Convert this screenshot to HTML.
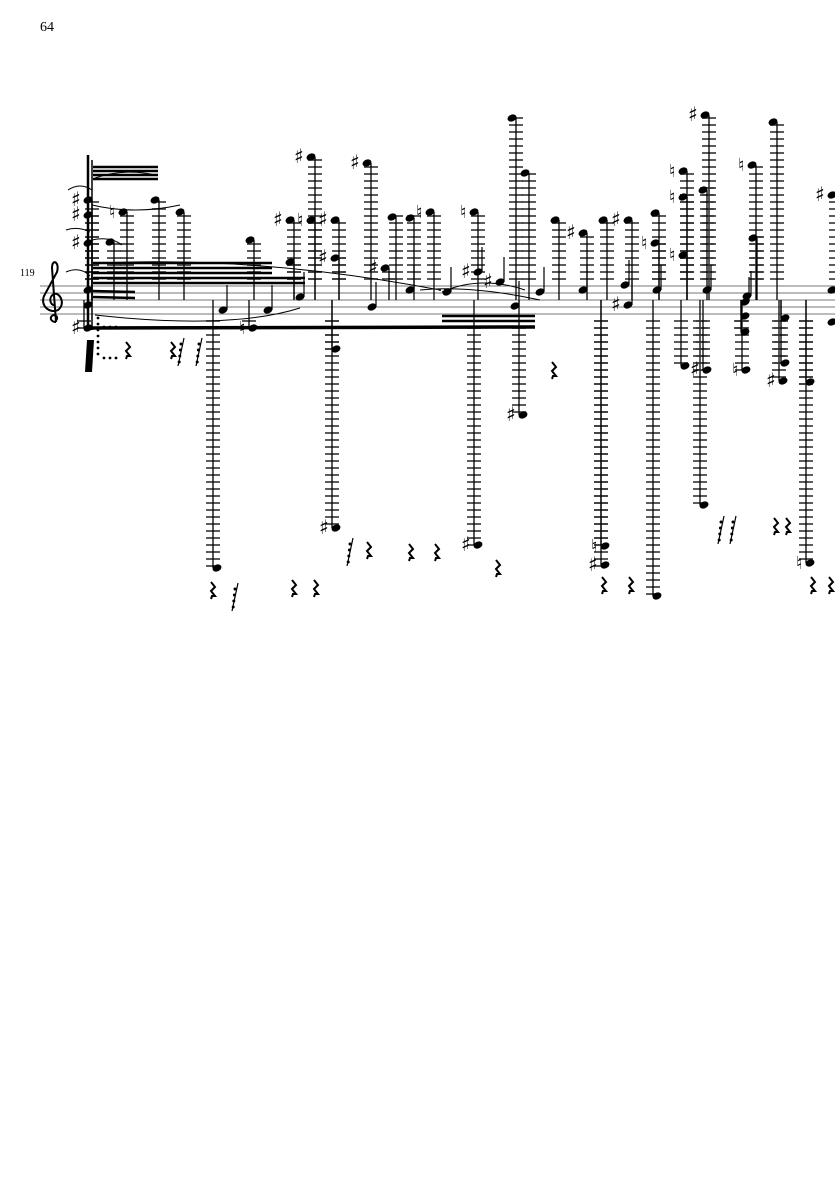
<!DOCTYPE html>
<html><head><meta charset="utf-8"><style>
html,body{margin:0;padding:0;background:#fff;width:835px;height:1181px;overflow:hidden}
svg{position:absolute;left:0;top:0}
</style></head><body>
<svg id="s" width="835" height="1181" xmlns="http://www.w3.org/2000/svg" font-family="Liberation Serif, serif">
<text x="40" y="31" font-size="14">64</text>
<text x="20" y="276" font-size="10">119</text>
<g stroke="#777" stroke-width="1">
<line x1="40" y1="286" x2="835" y2="286"/><line x1="40" y1="293" x2="835" y2="293"/><line x1="40" y1="300" x2="835" y2="300"/><line x1="40" y1="307" x2="835" y2="307"/><line x1="40" y1="314" x2="835" y2="314"/>
</g>
<path d="M56 322 C50 322 49 316 54 315 C58 315 58 320 55 321 M56 322 L52 268 C52 258 60 262 57 272 L44 296 C40 306 50 314 58 310 C66 304 60 292 54 294 C48 297 50 306 55 305" fill="none" stroke="#000" stroke-width="2"/>
<g id="g"></g>
</svg>
<script>
var g=document.getElementById('g'),h='';
function L(x1,y1,x2,y2,w,c){h+='<line x1="'+x1+'" y1="'+y1+'" x2="'+x2+'" y2="'+y2+'" stroke="'+(c||'#000')+'" stroke-width="'+(w||1)+'"/>';}
function head(x,y,a){h+='<ellipse cx="'+x+'" cy="'+y+'" rx="4.6" ry="3.4" transform="rotate(-22 '+x+' '+y+')"/>';
 if(a=='#')h+='<text x="'+(x-17)+'" y="'+(y+6)+'" font-size="20" font-weight="bold" font-family="DejaVu Sans">♯</text>';
 if(a=='n')h+='<text x="'+(x-14)+'" y="'+(y+6)+'" font-size="18" font-weight="bold" font-family="DejaVu Sans">♮</text>';}
function ledg(x,y){if(y<283){for(var k=279;k>=y-2;k-=7)L(x-7,k,x+7,k,1.6,'#333');}
 if(y>317){for(var k=321;k<=y+2;k+=7)L(x-7,k,x+7,k,1.6,'#333');}}
var up=[[88,200,'#'],[88,215,'#'],[88,243,'#'],[155,200,''],[123,212,'n'],[110,242,''],[180,212,''],[250,240,''],[290,220,'#'],[290,262,''],[311,157,'#'],[311,220,'n'],[335,220,'#'],[335,258,'#'],[367,163,'#'],[392,217,''],[385,268,'#'],[410,218,''],[430,212,'n'],[474,212,'n'],[512,118,''],[525,173,''],[555,220,''],[583,233,'#'],[603,220,''],[628,220,'#'],[655,213,''],[655,243,'n'],[683,171,'n'],[683,197,'n'],[683,255,'n'],[705,115,'#'],[703,190,''],[752,165,'n'],[753,238,''],[773,122,''],[832,195,'#']];
var mid=[[223,310,''],[268,310,''],[300,297,''],[372,307,''],[410,290,''],[447,292,''],[478,272,'#'],[500,282,'#'],[515,306,''],[540,292,''],[583,290,''],[625,285,''],[628,305,'#'],[657,290,''],[707,290,''],[747,296,''],[745,302,''],[832,290,''],[832,322,''],[88,290,''],[88,305,'']];
var low=[[88,328,'#'],[253,328,'n'],[217,568,''],[336,528,'#'],[336,349,''],[478,545,'#'],[523,415,'#'],[605,565,'#'],[605,546,'n'],[657,596,''],[704,505,''],[685,366,''],[707,370,'#'],[746,370,'n'],[783,381,'#'],[785,363,''],[810,563,'n'],[810,382,''],[745,332,''],[745,316,''],[785,318,'']];
up.forEach(function(n){ledg(n[0]+4,n[1]);L(n[0]+4,n[1],n[0]+4,300,1.3);});
low.forEach(function(n){ledg(n[0]-4,n[1]);L(n[0]-4,n[1],n[0]-4,300,1.3);});
mid.forEach(function(n){L(n[0]+4,n[1],n[0]+4,n[1]-25,1.2);});
up.concat(mid,low).forEach(function(n){head(n[0],n[1],n[2]);});
[[93,167],[93,171],[93,175],[93,179]].forEach(function(b){L(b[0],b[1],158,b[1],2.5);});
[263,268,273,278,283].forEach(function(y,i){L(93,y,i<3?272:305,y,2.5);});
L(90,328,535,327,3.5);L(442,316,535,316,2.5);L(442,321,535,321,2.5);L(93,291,135,292,2.5);L(93,297,135,298,2.5);
L(88,155,88,330,2.5);L(92,160,92,330,1.5);
h+='<path d="M95 178 Q125 168 155 175 M92 205 Q135 215 180 205 M92 240 Q110 236 122 245 M95 315 Q230 330 300 308 M420 290 Q470 285 540 300 M442 292 Q480 275 525 290 M100 263 Q260 256 440 290 M68 190 Q80 182 92 190 M66 230 Q78 226 90 232 M66 272 Q80 266 90 276" fill="none" stroke="#000" stroke-width="1"/>';
function rest(x,y){h+='<path d="M'+(x-1)+' '+(y-8)+' l4 5 l-4 4 l4 5 l-3 0 l-1 3" fill="none" stroke="#000" stroke-width="2"/>';}
[[127,350],[172,350],[212,590],[293,588],[315,588],[368,550],[410,552],[436,552],[497,568],[553,370],[603,585],[630,585],[775,526],[787,526],[812,585],[830,585]].forEach(function(r){rest(r[0],r[1]);});
function gr(x,y){L(x+6,y-12,x,y+16,1.2);for(var k=0;k<4;k++)h+='<circle cx="'+(x+3-k*0.6)+'" cy="'+(y-6+k*6)+'" r="1.5"/>';}
[[178,350],[196,350],[232,595],[347,550],[718,528],[730,528]].forEach(function(q){gr(q[0],q[1]);});
for(var k=0;k<7;k++){h+='<circle cx="98" cy="'+(318+k*6)+'" r="1.4"/>';}
[104,110,116].forEach(function(x){h+='<circle cx="'+x+'" cy="358" r="1.4"/>';h+='<circle cx="'+x+'" cy="327" r="1.4"/>';});
h+='<path d="M87 340 L94 340 L92 372 L85 372 Z"/>';
h+='<circle cx="440" cy="290" r="1"/><circle cx="445" cy="290" r="1"/><circle cx="450" cy="290" r="1"/>';
g.innerHTML=h;
</script>
</body></html>
